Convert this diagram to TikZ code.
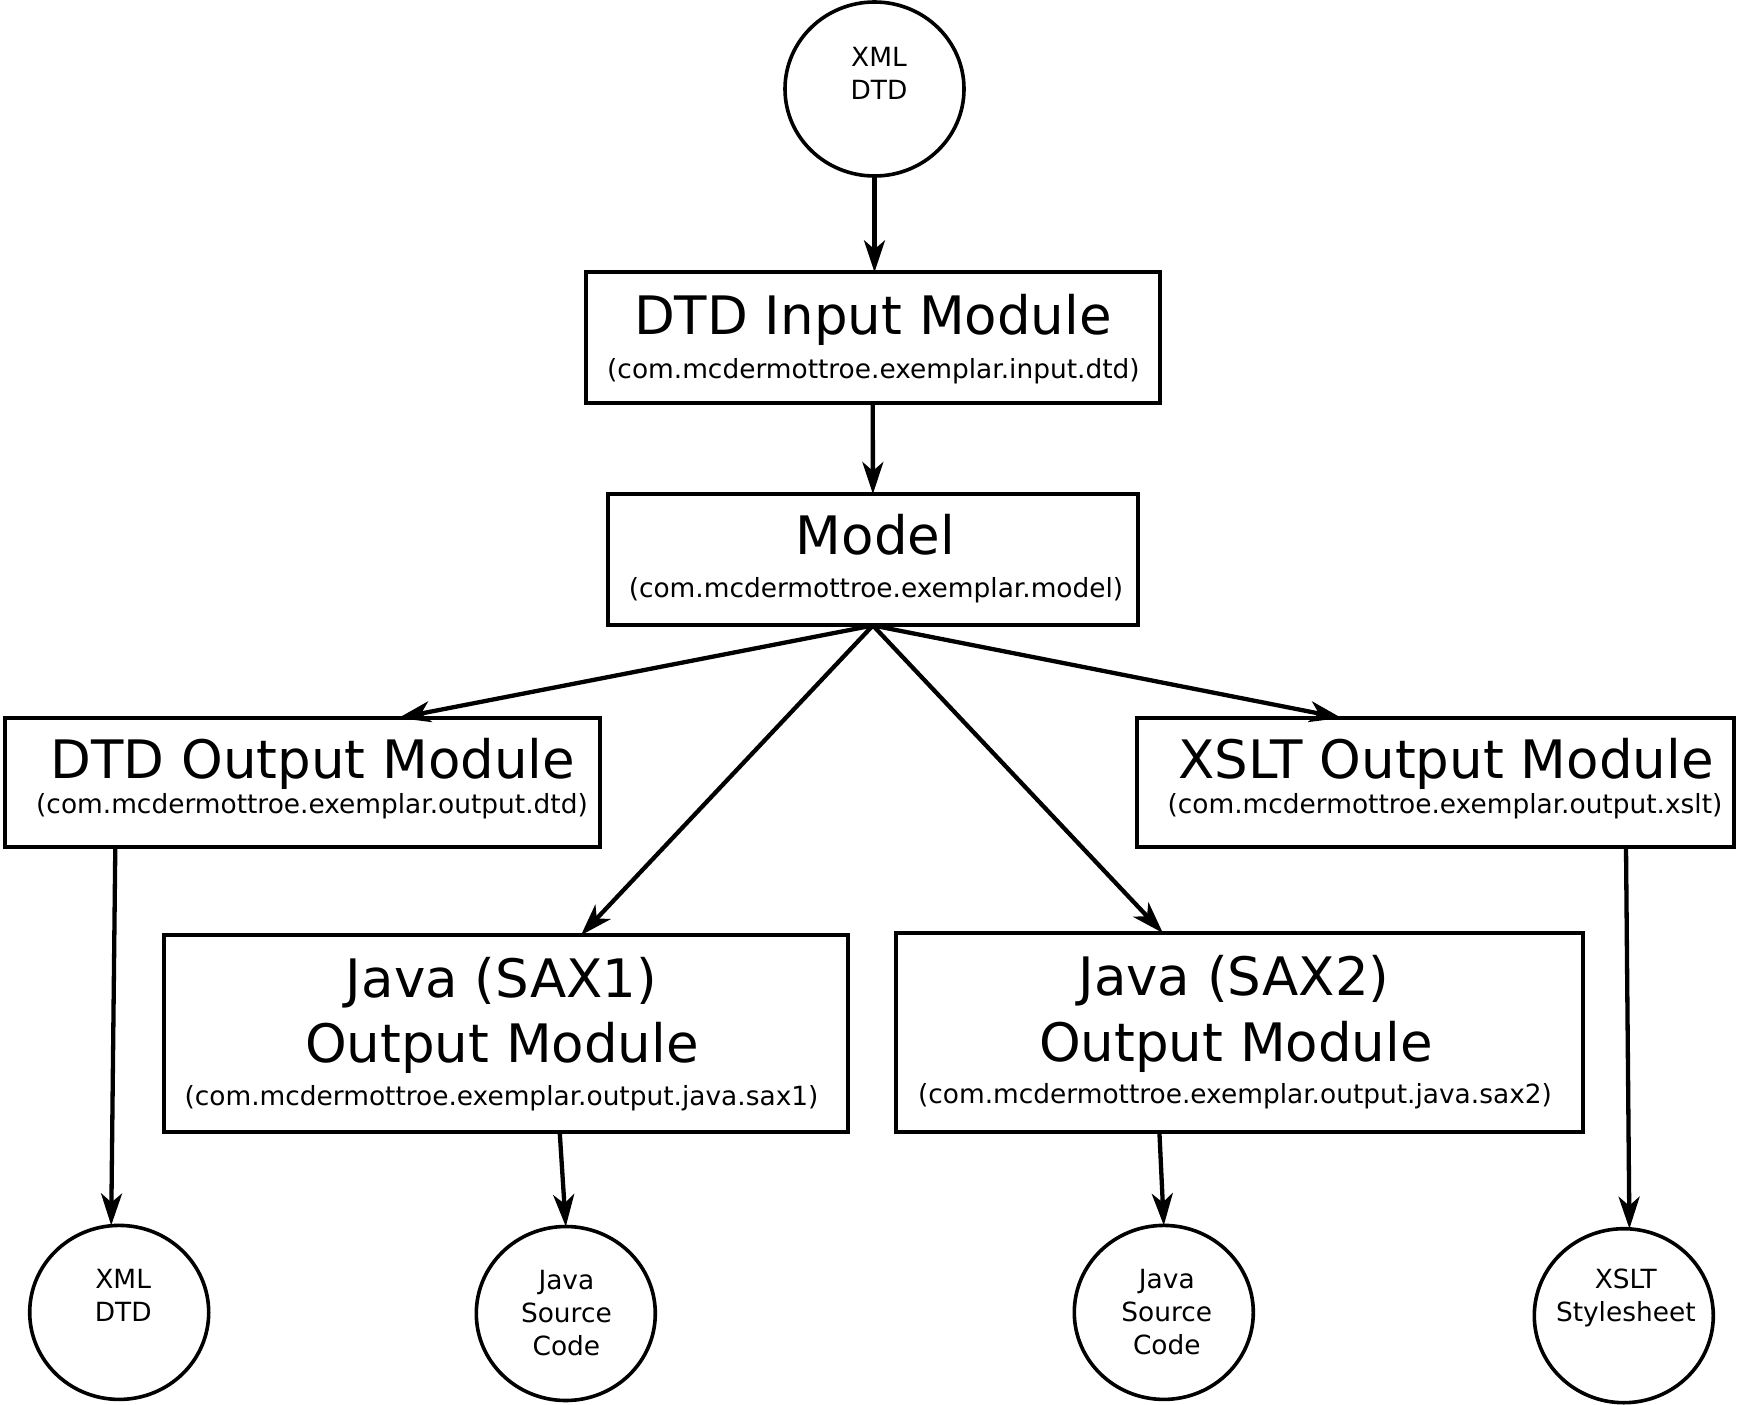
\documentclass[tikz,border=0pt]{standalone}
\usepackage{fontspec}
\setmainfont{DejaVu Sans}
\usetikzlibrary{shapes.geometric,arrows.meta}
\begin{document}
\begin{tikzpicture}[x=1pt,y=-1pt,
  boxnode/.style={draw, rectangle, line width=4pt, inner sep=0pt, outer sep=0pt},
  ell/.style={draw, ellipse, line width=3.6pt, minimum width=179pt, minimum height=174pt, inner sep=0pt, outer sep=0pt},
  bigtxt/.style={font=\fontsize{53}{64}\selectfont, inner sep=0pt, anchor=base},
  smalltxt/.style={font=\fontsize{26.4}{33}\selectfont, inner sep=0pt, anchor=base},
  ctxt/.style={font=\fontsize{26.4}{33}\selectfont, align=center, inner sep=0pt},
  arr/.style={line width=4.3pt, -{Stealth[length=32pt,width=21pt,inset=9pt]}}]
\useasboundingbox (0,0) rectangle (1738,1405);

% circles
\node[ell] (c0) at (874.5,89) {};
\node[ell] (c1) at (119.2,1312.4) {};
\node[ell] (c2) at (565.8,1313.5) {};
\node[ell] (c3) at (1163.8,1312.4) {};
\node[ell] (c4) at (1623.8,1315.7) {};
\node[ctxt] (c0t) at ([xshift=4.5pt,yshift=16pt]c0.center) {XML\\DTD};
\node[ctxt] (c1t) at ([xshift=4pt,yshift=17pt]c1.center) {XML\\DTD};
\node[ctxt] (c2t) at ([xshift=0.6pt]c2.center) {Java\\Source\\Code};
\node[ctxt] (c3t) at ([xshift=3pt]c3.center) {Java\\Source\\Code};
\node[ctxt] (c4t) at ([xshift=2pt,yshift=18pt]c4.center) {XSLT\\Stylesheet};

% boxes
\node[boxnode, minimum width=573.8pt, minimum height=130.4pt] (in) at (872.8,337.5) {};
\node[boxnode, minimum width=529.3pt, minimum height=131.5pt] (model) at (872.9,559.7) {};
\node[boxnode, minimum width=594.8pt, minimum height=129.2pt] (dtdout) at (302.6,782.5) {};
\node[boxnode, minimum width=596.9pt, minimum height=129.2pt] (xslt) at (1435.4,782.5) {};
\node[boxnode, minimum width=684.5pt, minimum height=196.8pt] (sax1) at (506,1033.6) {};
\node[boxnode, minimum width=686.7pt, minimum height=199.2pt] (sax2) at (1239.8,1032.5) {};

% box texts
\node[bigtxt] (inA) at (873,334.5) {DTD Input Module};
\node[smalltxt] (inB) at (873.4,378.5) {(com.mcdermottroe.exemplar.input.dtd)};
\node[bigtxt] (modelA) at (875.5,554) {Model};
\node[smalltxt] (modelB) at (876,597) {(com.mcdermottroe.exemplar.model)};
\node[bigtxt] (dtdoutA) at (313,778) {DTD Output Module};
\node[smalltxt] (dtdoutB) at (312,813) {(com.mcdermottroe.exemplar.output.dtd)};
\node[bigtxt] (xsltA) at (1446,778) {XSLT Output Module};
\node[smalltxt] (xsltB) at (1445,813) {(com.mcdermottroe.exemplar.output.xslt)};
\node[bigtxt] (sax1A) at (501.5,997) {Java (SAX1)};
\node[bigtxt] (sax1B) at (502,1062) {Output Module};
\node[smalltxt] (sax1C) at (501.5,1105) {(com.mcdermottroe.exemplar.output.java.sax1)};
\node[bigtxt] (sax2A) at (1234,995) {Java (SAX2)};
\node[bigtxt] (sax2B) at (1236,1061) {Output Module};
\node[smalltxt] (sax2C) at (1235,1103) {(com.mcdermottroe.exemplar.output.java.sax2)};

% arrows
\draw[arr] (c0.south) -- (c0.south |- in.north);
\draw[arr] (in.south) -- (model.north);
\draw[arr] (model.south) -- ([xshift=96pt]dtdout.north);
\draw[arr] (model.south) -- ([xshift=75pt]sax1.north);
\draw[arr] (model.south) -- ([xshift=-77pt]sax2.north);
\draw[arr] (model.south) -- ([xshift=-94pt]xslt.north);
\draw[arr] ([xshift=-187.3pt]dtdout.south) -- ([xshift=-8pt]c1.north);
\draw[arr] ([xshift=53.7pt]sax1.south) -- (c2.north);
\draw[arr] ([xshift=-80.4pt]sax2.south) -- (c3.north);
\draw[arr] ([xshift=190.6pt]xslt.south) -- ([xshift=5.6pt]c4.north);
\end{tikzpicture}
\end{document}
